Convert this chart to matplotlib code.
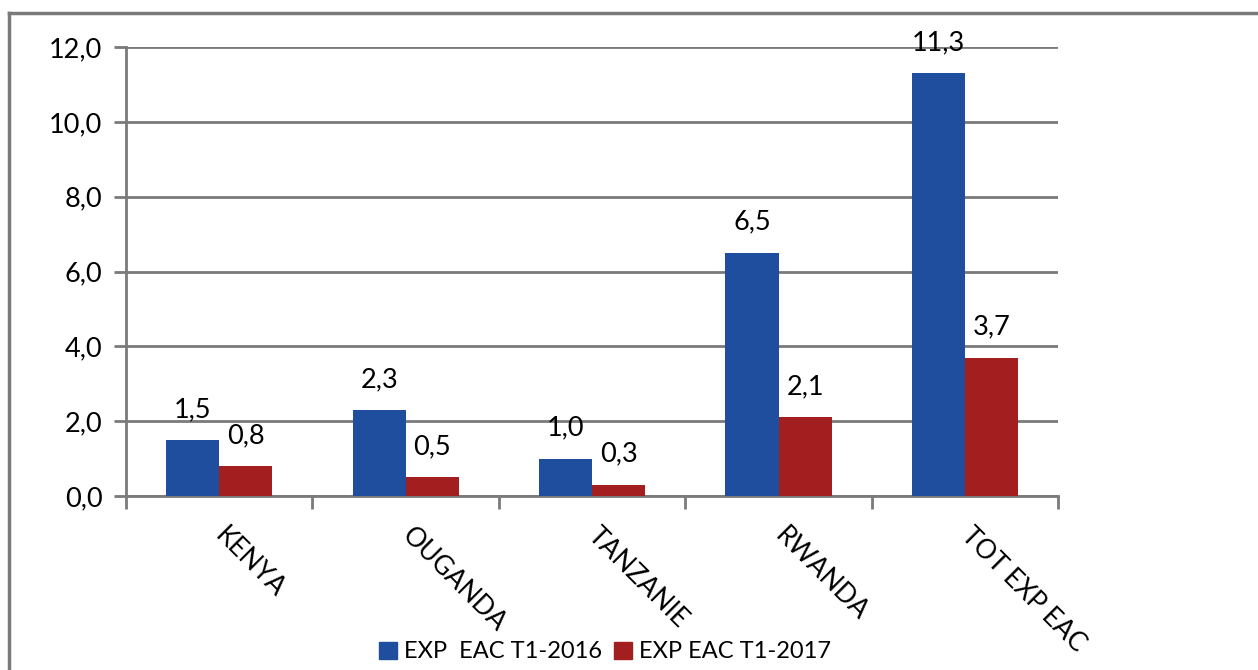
import matplotlib.pyplot as plt
import numpy as np
from matplotlib.patches import Patch
from matplotlib.lines import Line2D

plt.rcParams['font.family'] = ['Lato', 'DejaVu Sans']

countries = ['KENYA', 'OUGANDA', 'TANZANIE', 'RWANDA', 'TOT EXP EAC']
exp_2016 = [1.5, 2.3, 1.0, 6.5, 11.3]
exp_2017 = [0.8, 0.5, 0.3, 2.1, 3.7]
series_names = ['EXP  EAC T1-2016', 'EXP EAC T1-2017']

blue = '#1F4E9E'
red = '#A31F1F'
grey = '#7A7A7A'


def fmt(v):
    return f"{v:.1f}".replace('.', ',')


fig = plt.figure(figsize=(12.58, 6.70), dpi=100)
ax = fig.add_axes([0.1002, 0.2597, 0.741, 0.670])

x = np.arange(len(countries))
w = 0.285
ax.bar(x - w / 2, exp_2016, width=w, color=blue, zorder=3)
ax.bar(x + w / 2, exp_2017, width=w, color=red, zorder=3)

# étiquettes de valeurs au-dessus des barres
for xi, v in zip(x - w / 2, exp_2016):
    ax.annotate(fmt(v), (xi, v), xytext=(0, 22), textcoords='offset points',
                ha='center', va='center', fontsize=19.5, zorder=4)
for xi, v in zip(x + w / 2, exp_2017):
    ax.annotate(fmt(v), (xi, v), xytext=(0, 22), textcoords='offset points',
                ha='center', va='center', fontsize=19.5, zorder=4)

ax.set_xlim(-0.5, len(countries) - 0.5)
ax.set_ylim(0, 12)
ax.set_yticks(np.arange(0, 13, 2))
ax.set_yticklabels([fmt(t) for t in np.arange(0, 13, 2)], fontsize=19.5)
ax.yaxis.grid(True, color=grey, linewidth=2, zorder=0)

# ticks between categories, labels at the centres
ax.set_xticks(np.arange(-0.5, len(countries), 1))
ax.set_xticklabels([])
ax.set_xticks(x, minor=True)
ax.set_xticklabels(countries, minor=True, rotation=-45, ha='left', va='center',
                   rotation_mode='anchor', fontsize=19)
ax.tick_params(axis='x', which='minor', length=0, pad=26)
ax.tick_params(axis='x', which='major', length=9, width=2, color=grey)
ax.tick_params(axis='y', length=9, width=2, color=grey, pad=8)

for s in ['top', 'right']:
    ax.spines[s].set_visible(False)
for s in ['left', 'bottom']:
    ax.spines[s].set_color(grey)
    ax.spines[s].set_linewidth(2)

handles = [Patch(color=blue), Patch(color=red)]
fig.legend(handles, series_names, loc='center', bbox_to_anchor=(0.481, 0.027),
           ncol=2, frameon=False, fontsize=17, handlelength=0.75, handleheight=0.75,
           handletextpad=0.3, columnspacing=0.5, borderpad=0)

# cadre extérieur du graphique (bords haut et gauche visibles)
fig.add_artist(Line2D([0.0072, 1.0], [0.981, 0.981], color=grey, linewidth=2.5))
fig.add_artist(Line2D([0.0072, 0.0072], [0.0, 0.981], color=grey, linewidth=2.5))

fig.savefig('out.png', dpi=100)
